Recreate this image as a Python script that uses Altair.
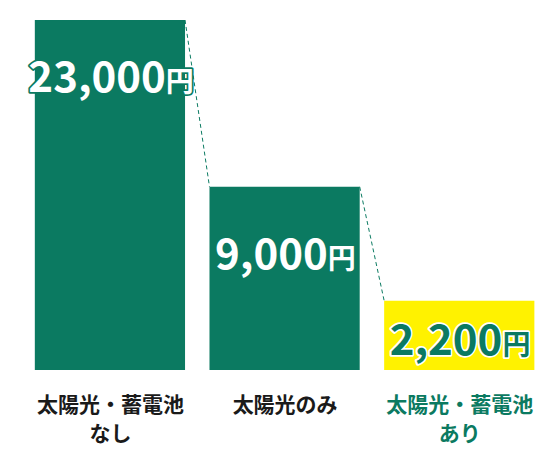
import json
import altair as alt
import pandas as pd

categories = ["太陽光・蓄電池\nなし", "太陽光のみ", "太陽光・蓄電池\nあり"]
values = [23000, 9000, 2200]
unit = "円"

GREEN = "#0b7a61"
YELLOW = "#fff200"
WHITE = "#ffffff"
INK = "#1a1a1a"
FONT = "Noto Sans CJK JP"
HW = 0.43          # half bar width in category units
PLOT_W = 524
PX_PER_UNIT = PLOT_W / 3
NUM_SIZE = 42
YEN_SIZE = 28

n = len(values)
df = pd.DataFrame({
    "idx": list(range(n)),
    "category": categories,
    "value": values,
    "label": [f"{v:,}" for v in values],
    "unit": [unit] * n,
})
links = pd.DataFrame({
    "i0": list(range(n - 1)),
    "v0": values[:-1],
    "v1": values[1:],
})

xscale = alt.Scale(domain=[-0.5, n - 0.5], nice=False, zero=False)
yscale = alt.Scale(type="pow", exponent=0.69, domain=[0, max(values)], nice=False)
lscale = alt.Scale(domain=[1050, 28700], nice=False, zero=False)

line_lists = [c.split("\n") for c in categories]
label_expr = json.dumps(line_lists, ensure_ascii=False) + "[datum.value]"

xaxis = alt.Axis(
    values=list(range(n)), labelExpr=label_expr, title=None, domain=False,
    ticks=False, grid=False, labelFont=FONT, labelFontSize=21,
    labelFontWeight="bold", labelLineHeight=29, labelPadding=25,
    labelOverlap=False, labelFlush=False, labelBound=False,
    labelColor={"condition": {"test": f"datum.value == {n - 1}", "value": GREEN}, "value": INK},
)

bar_colors = alt.Scale(domain=categories, range=[GREEN, GREEN, YELLOW])
outline_colors = alt.Scale(domain=categories, range=[GREEN, GREEN, WHITE])
fill_colors = alt.Scale(domain=categories, range=[WHITE, WHITE, GREEN])

bars = alt.Chart(df).transform_calculate(
    x0=f"datum.idx - {HW}", x1=f"datum.idx + {HW}"
).mark_bar().encode(
    x=alt.X("x0:Q", scale=xscale, axis=xaxis),
    x2="x1:Q",
    y=alt.Y("value:Q", scale=yscale, axis=None),
    y2=alt.datum(0),
    fill=alt.Fill("category:N", scale=bar_colors, legend=None),
)

connectors = alt.Chart(links).transform_calculate(
    xa=f"datum.i0 + {HW}", xb=f"datum.i0 + 1 - {HW}"
).mark_rule(strokeDash=[4, 3], strokeWidth=1, color=GREEN).encode(
    x=alt.X("xa:Q", scale=xscale, axis=xaxis),
    x2="xb:Q",
    y=alt.Y("v0:Q", scale=yscale, axis=None),
    y2="v1:Q",
)

# centre "number + 円" on the bar: shift anchor by (numWidth - yenWidth) / 2
digit_half = 0.61 * NUM_SIZE / 2
comma_half = 0.28 * NUM_SIZE / 2
yen_half = YEN_SIZE / 2
label_base = alt.Chart(df).transform_calculate(
    ax=(f"datum.idx + ((length(datum.label) - 1) * {digit_half} + {comma_half}"
        f" - {yen_half}) / {PX_PER_UNIT}")
)


def text_layer(field, size, align, outline):
    kw = dict(font=FONT, fontWeight="bold", fontSize=size, align=align,
              baseline="alphabetic")
    if outline:
        mark = label_base.mark_text(strokeWidth=3.5, strokeJoin="round", **kw)
        enc = dict(
            fill=alt.Fill("category:N", scale=outline_colors, legend=None),
            stroke=alt.Stroke("category:N", scale=outline_colors, legend=None),
        )
    else:
        mark = label_base.mark_text(**kw)
        enc = dict(fill=alt.Fill("category:N", scale=fill_colors, legend=None))
    return mark.encode(
        x=alt.X("ax:Q", scale=xscale, axis=xaxis),
        y=alt.Y("value:Q", scale=lscale, axis=None),
        text=f"{field}:N",
        **enc,
    )


num_out = text_layer("label", NUM_SIZE, "right", True)
num_fill = text_layer("label", NUM_SIZE, "right", False)
yen_out = text_layer("unit", YEN_SIZE, "left", True)
yen_fill = text_layer("unit", YEN_SIZE, "left", False)

chart = alt.layer(
    bars, connectors, num_out, yen_out, num_fill, yen_fill
).resolve_scale(
    y="independent", fill="independent", stroke="independent"
).properties(
    width=PLOT_W, height=350,
    padding={"left": 14.6, "top": 12, "right": 0, "bottom": 80},
    autosize="none",
).configure_view(stroke=None)

chart.save("out.html", embed_options={"renderer": "svg", "actions": False})
